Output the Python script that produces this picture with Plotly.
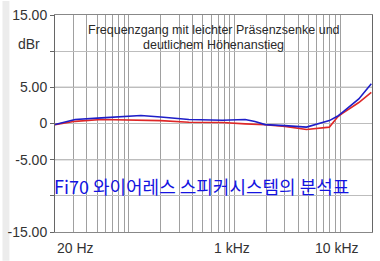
import numpy as np
import plotly.graph_objects as go

# Frequencies (Hz)
freq = [20, 31, 55, 130, 200, 370, 770, 1260, 1560, 1950, 3000, 4800, 7900, 9400, 10500, 15000, 19700]
blue_db = [-0.15, 0.55, 0.78, 1.1, 0.9, 0.55, 0.45, 0.55, 0.27, -0.15, -0.3, -0.5, 0.4, 1.0, 1.55, 3.4, 5.5]
red_db = [-0.15, 0.3, 0.55, 0.4, 0.4, 0.18, 0.14, -0.05, -0.1, -0.18, -0.4, -0.83, -0.5, 0.87, 1.4, 2.9, 4.3]

y_tickvals = [15, 5, 0, -5, -15]
y_ticktext = ["15.00", "5.00", "0", "-5.00", "-15.00"]
y_grid = [10, 0, -10]
y_grid_dark = [5, -5]
x_labels = [(20, "20 Hz"), (1000, "1 kHz"), (10000, "10 kHz")]
x_grid = [m * d for d in (10, 100, 1000) for m in range(1, 10) if m * d > 20] + [10000]

title1 = "Frequenzgang mit leichter Präsenzsenke und"
title2 = "deutlichem Höhenanstieg"
caption = "Fi70 와이어레스 스피커시스템의 분석표"

W, H = 380, 261
L, R, T, B = 53, 7, 14, 29
pw, ph = W - L - R, H - T - B

fig = go.Figure()
fig.add_trace(go.Scatter(x=freq, y=red_db, mode="lines",
                         line=dict(color="rgb(222,40,40)", width=1.6), hoverinfo="skip"))
fig.add_trace(go.Scatter(x=freq, y=blue_db, mode="lines",
                         line=dict(color="rgb(30,30,200)", width=1.6), hoverinfo="skip"))

shapes = []
# left gray strip
shapes.append(dict(type="rect", xref="paper", yref="paper", x0=-L / pw, x1=-(L - 7) / pw,
                   y0=-B / ph, y1=(ph + T) / ph, fillcolor="#ececec", line=dict(width=0), layer="below"))
for yv in y_grid_dark:
    shapes.append(dict(type="line", xref="paper", yref="y", x0=0, x1=1, y0=yv, y1=yv,
                       line=dict(color="#555555", width=1), layer="below"))

annotations = []
annotations.append(dict(text=title1, x=0.5, y=(232 - 29) / ph, xref="paper", yref="paper",
                        showarrow=False, font=dict(family="Arial, Liberation Sans", size=12.5, color="#2a2a2a"),
                        xanchor="center", yanchor="middle"))
annotations.append(dict(text=title2, x=0.5, y=(232 - 44) / ph, xref="paper", yref="paper",
                        showarrow=False, font=dict(family="Arial, Liberation Sans", size=12.5, color="#2a2a2a"),
                        xanchor="center", yanchor="middle"))
annotations.append(dict(text=caption, x=(50 - L) / pw, y=(232 - 186) / ph, xref="paper", yref="paper",
                        showarrow=False, font=dict(family="Noto Sans CJK KR", size=18, color="rgb(20,20,225)"),
                        xanchor="left", yanchor="middle"))
annotations.append(dict(text="dBr", x=(40 - L) / pw, y=(232 - 43) / ph, xref="paper", yref="paper",
                        showarrow=False, font=dict(family="Arial, Liberation Sans", size=14, color="#333"),
                        xanchor="right", yanchor="middle"))
for f, lab in x_labels:
    annotations.append(dict(text=lab, x=np.log10(f), y=(232 - 248) / ph, xref="x", yref="paper",
                            showarrow=False, font=dict(family="Arial, Liberation Sans", size=14, color="#333"),
                            xanchor="left" if f == 20 else "center", xshift=0 if f == 20 else -3,
                            yanchor="middle"))

fig.update_layout(
    width=W, height=H, margin=dict(l=L, r=R, t=T, b=B),
    paper_bgcolor="white", plot_bgcolor="white", showlegend=False,
    shapes=shapes, annotations=annotations,
    xaxis=dict(type="log", range=[np.log10(20), np.log10(20000)], tickvals=x_grid,
               showticklabels=False, showgrid=True, gridcolor="#a0a0a0", gridwidth=1,
               showline=True, linecolor="#888", mirror=True, ticks="", zeroline=False),
    yaxis=dict(range=[-15, 15], tickvals=y_tickvals + y_grid, ticktext=y_ticktext + [""] * len(y_grid),
               showgrid=True, gridcolor="#bdbdbd", gridwidth=1, zeroline=False,
               showline=True, linecolor="#666", mirror=True, ticks="outside", ticklen=4,
               tickcolor="#666", tickfont=dict(family="Arial, Liberation Sans", size=14, color="#333")),
)
fig.write_html("out.html")
